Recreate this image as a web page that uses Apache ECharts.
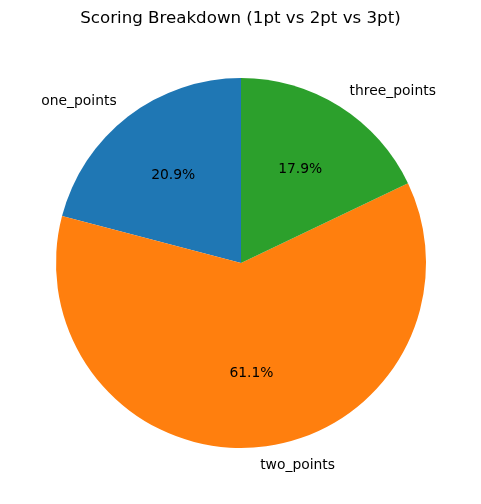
<!DOCTYPE html>
<html>
<head>
<meta charset="utf-8">
<script src="https://cdn.jsdelivr.net/npm/echarts@6/dist/echarts.min.js"></script>
<style>html,body{margin:0;padding:0;background:#fff}#c{width:481px;height:504px}</style>
</head>
<body>
<div id="c"></div>
<script>
const categories = ['one_points', 'two_points', 'three_points'];
const percentValues = [20.9, 61.1, 17.9];
const colors = ['#1f77b4', '#ff7f0e', '#2ca02c'];
const titleText = 'Scoring Breakdown (1pt vs 2pt vs 3pt)';

const chart = echarts.init(document.getElementById('c'), null, {renderer: 'canvas'});
const font = 'DejaVu Sans';
const mainData = categories.map((n, i) => ({name: n, value: percentValues[i], itemStyle: {color: colors[i]}}));
const pctData = categories.map((n, i) => ({name: n, value: percentValues[i]}));
chart.setOption({
  animation: false,
  backgroundColor: '#fff',
  title: {
    text: titleText, left: 'center', top: 5,
    textStyle: {fontFamily: font, fontSize: 16.67, fontWeight: 'normal', color: '#000'}
  },
  series: [
    {
      type: 'pie', center: [241, 263], radius: [0, 185],
      startAngle: 90, clockwise: false, avoidLabelOverlap: false,
      silent: true, data: mainData,
      label: {show: true, position: 'outside', distanceToLabelLine: 0, padding: [3, 0, 0, 0], fontFamily: font, fontSize: 13.89, color: '#000', formatter: '{b}'},
      labelLine: {show: false, length: 18.5, length2: 0},
      emphasis: {disabled: true}
    },
    {
      type: 'pie', center: [241, 263], radius: [0, 216],
      startAngle: 90, clockwise: false, avoidLabelOverlap: false,
      silent: true, data: pctData, z: 3,
      itemStyle: {color: 'rgba(0,0,0,0)', borderWidth: 0},
      label: {show: true, position: 'inside', padding: [2, 0, 0, 0], fontFamily: font, fontSize: 13.89, color: '#000', formatter: '{c}%'},
      labelLine: {show: false},
      emphasis: {disabled: true}
    }
  ]
});
</script>
</body>
</html>
